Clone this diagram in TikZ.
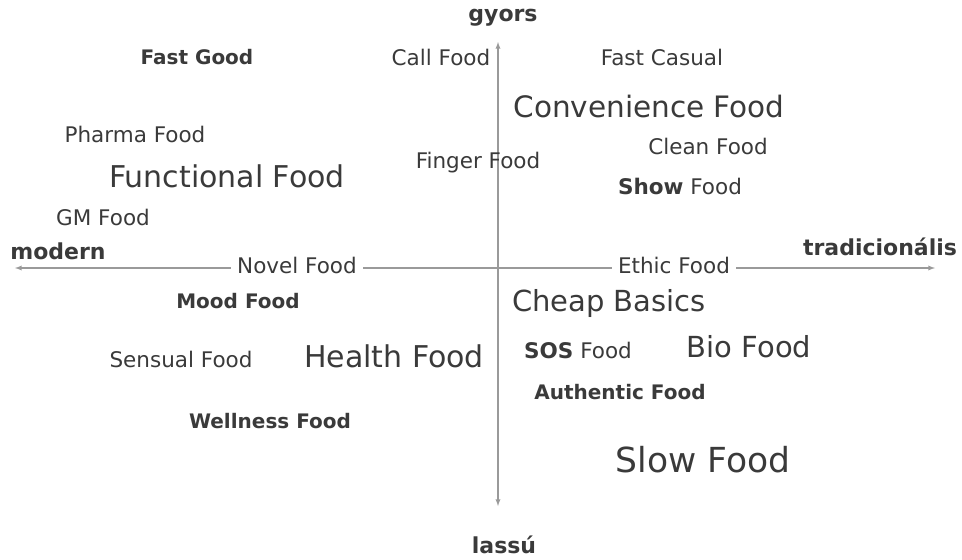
\documentclass[tikz,border=0pt]{standalone}
\usepackage{fontspec}
\setmainfont{DejaVu Sans}
\usetikzlibrary{arrows,positioning}
\definecolor{txtgray}{HTML}{3A3A3A}
\definecolor{axgray}{HTML}{9A9A9A}

\begin{document}
\begin{tikzpicture}[x=1pt, y=-1pt,
    food/.style={text=txtgray, inner sep=1pt, font=\fontsize{21.5}{25}\selectfont},
    boldfood/.style={food, font=\fontsize{20}{24}\selectfont\bfseries},
    bigfood/.style={text=txtgray, inner sep=1pt, font=\fontsize{30}{35}\selectfont},
    axislabel/.style={text=txtgray, inner sep=1pt, font=\fontsize{22}{26}\selectfont\bfseries},
    axis/.style={<->, >=latex, draw=axgray, line width=1.3pt}
]
\useasboundingbox (0,0) rectangle (962,560);

% axes
\coordinate (W) at (15,268);
\coordinate (E) at (935,268);
\coordinate (N) at (498,42);
\coordinate (S) at (498,506);
\draw[axis] (W) -- (E);
\draw[axis] (N) -- (S);

\node[axislabel] (gyors) at (503,18) {gyors};
\node[axislabel] (lassu) at (504,545) {lassú};
\node[axislabel] (modern) at (58,251) {modern};
\node[axislabel] (trad) at (880,247) {tradicionális};

% upper left
\node[boldfood] (fastgood) at (197,57) {Fast Good};
\node[food] (pharma) at (135,134) {Pharma Food};
\node[bigfood] (functional) at (227,176) {Functional Food};
\node[food] (gm) at (103,217) {GM Food};

% upper right
\node[food] (call) at (441,57) {Call Food};
\node[food] (casual) at (662,57) {Fast Casual};
\node[bigfood, font=\fontsize{29.5}{34}\selectfont] (convenience) at (649,106) {Convenience Food};
\node[food] (clean) at (708,146) {Clean Food};
\node[food] (finger) at (478,163) {Finger Food};
\node[food] (show) at (680,186) {\textbf{Show} Food};

% on the axis
\node[food, fill=white, inner xsep=6pt] (novel) at (297,265) {Novel Food};
\node[food, fill=white, inner xsep=6pt] (ethic) at (674,265) {Ethic Food};

% lower left
\node[boldfood] (mood) at (238,301) {Mood Food};
\node[food] (sensual) at (181,359) {Sensual Food};
\node[bigfood] (health) at (394,356) {Health Food};
\node[boldfood] (wellness) at (270,421) {Wellness Food};

% lower right
\node[bigfood, font=\fontsize{29}{34}\selectfont] (cheap) at (609,303) {Cheap Basics};
\node[food] (sos) at (578,350) {\textbf{SOS} Food};
\node[bigfood, font=\fontsize{29}{34}\selectfont] (bio) at (749,347) {Bio Food};
\node[boldfood] (authentic) at (620,392) {Authentic Food};
\node[bigfood, font=\fontsize{34.5}{40}\selectfont] (slow) at (703,460) {Slow Food};

\end{tikzpicture}
\end{document}
